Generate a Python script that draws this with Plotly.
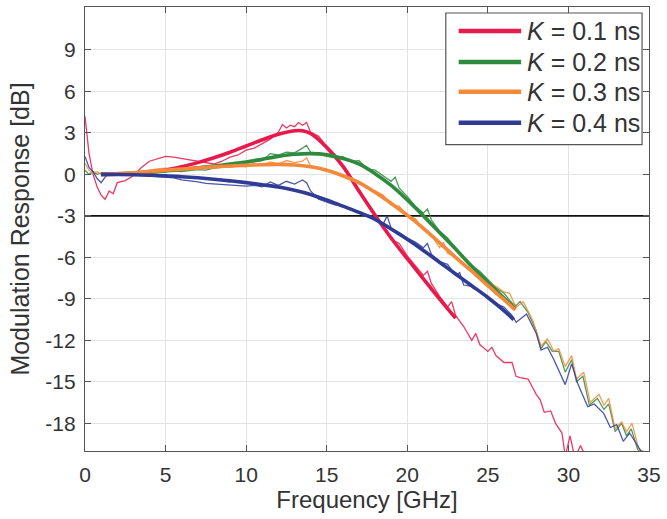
import plotly.graph_objects as go

# ---------------- data ----------------
labels = ["0.1", "0.2", "0.3", "0.4"]
colors = ["#E8194B", "#2E8B3E", "#F5893A", "#2F3C96"]

# measured responses (thin lines)
f_meas_k1 = [0, 0.25, 0.5, 0.75, 1.0, 1.25, 1.5, 1.75, 2.0, 2.5, 3.0, 3.5, 4.0, 4.5, 5.0, 5.5, 6.0, 6.5, 7.0, 7.5,
             8.0, 8.5, 9.0, 9.5, 10.0, 10.5, 11.0, 11.5, 12.0, 12.25, 12.5, 12.75, 13.0, 13.25, 13.5, 13.75, 14.0,
             14.5, 15.0, 15.5, 16.0, 16.5, 17.0, 17.5, 18.0, 18.5, 19.0, 19.5, 19.75, 20.0, 20.5, 21.0, 21.25,
             21.5, 22.0, 22.5, 22.75, 23.0, 23.5, 24.0, 24.25, 24.5, 25.0, 25.25, 25.5, 26.0, 26.5, 26.75, 27.0,
             27.5, 28.0, 28.25, 28.5, 28.9, 29.2, 29.6, 29.8, 30.1, 30.4, 30.75, 31.1]
m_k1 = [4.2, 1.5, 0.0, -0.9, -1.5, -1.8, -1.2, -1.4, -0.6, -0.45, -0.1, 0.5, 0.95, 1.15, 1.3, 1.25, 1.15, 1.05,
        0.9, 0.8, 0.75, 0.95, 1.25, 1.4, 1.75, 1.9, 2.25, 2.55, 3.05, 3.6, 3.35, 3.55, 3.45, 3.75, 3.55, 3.75,
        3.05, 2.75, 2.0, 1.3, 0.5, -0.3, -1.2, -2.0, -2.9, -3.8, -4.7, -5.0, -5.5, -5.9, -6.6, -7.3, -7.0, -7.9,
        -8.8, -9.6, -9.2, -10.2, -11.0, -12.0, -11.5, -12.3, -12.8, -12.5, -13.1, -13.6, -13.6, -14.6, -14.7,
        -14.8, -15.9, -16.3, -17.2, -17.1, -18.0, -18.7, -20.4, -18.9, -20.5, -19.6, -20.5]

f_meas_k2 = [0, 0.25, 0.5, 0.75, 1.0, 1.5, 2.0, 2.5, 3.0, 3.5, 4.0, 4.5, 5.0, 5.5, 6.0, 6.5, 7.0, 7.5, 8.0, 8.5,
             9.0, 9.5, 10.0, 10.5, 11.0, 11.5, 12.0, 12.5, 13.0, 13.5, 13.75, 14.0, 14.5, 15.0, 15.5, 16.0, 16.5,
             17.0, 17.5, 18.0, 18.5, 19.0, 19.25, 19.5, 20.0, 20.5, 21.0, 21.25, 21.5, 22.0, 22.5, 23.0, 23.5,
             24.0, 24.5, 25.0, 25.5, 26.0, 26.5, 26.75, 27.0, 27.5, 28.0, 28.3, 28.6, 29.0, 29.4, 29.8, 30.2, 30.5,
             30.9, 31.3, 31.8, 32.2, 32.5, 32.9, 33.3, 33.6, 33.9, 34.3, 34.7]
m_k2 = [0.3, 0.0, 0.2, 0.0, 0.1, 0.05, 0.0, 0.05, 0.05, 0.1, 0.1, 0.15, 0.2, 0.25, 0.2, 0.3, 0.35, 0.3, 0.45, 0.5,
        0.6, 0.6, 0.8, 0.9, 1.0, 1.5, 1.4, 1.6, 1.55, 1.9, 2.1, 1.6, 1.5, 1.3, 1.2, 1.3, 0.9, 1.0, 0.4, 0.3, -0.1,
        -0.5, -0.2, -1.0, -1.6, -2.3, -2.8, -2.5, -3.3, -4.1, -4.6, -5.3, -6.0, -6.6, -7.0, -7.6, -8.2, -8.6,
        -9.3, -9.5, -9.2, -10.0, -11.3, -12.6, -12.1, -12.8, -12.8, -14.3, -13.4, -15.0, -14.6, -16.7, -16.2,
        -17.0, -16.6, -18.6, -18.0, -18.9, -18.4, -19.9, -20.3]

f_meas_k3 = [0, 0.25, 0.5, 0.75, 1.0, 1.5, 2.0, 2.5, 3.0, 3.5, 4.0, 4.5, 5.0, 5.5, 6.0, 6.5, 7.0, 7.5, 8.0, 8.5,
             9.0, 9.5, 10.0, 10.5, 11.0, 11.5, 12.0, 12.5, 13.0, 13.5, 13.75, 14.0, 14.5, 15.0, 15.5, 16.0, 16.5,
             17.0, 17.5, 18.0, 18.5, 19.0, 19.5, 20.0, 20.5, 21.0, 21.5, 22.0, 22.25, 22.5, 23.0, 23.5, 24.0, 24.3,
             25.0, 25.5, 26.0, 26.35, 26.75, 27.2, 27.8, 28.3, 28.7, 29.1, 29.4, 29.8, 30.2, 30.5, 30.95, 31.35,
             31.9, 32.2, 32.5, 32.9, 33.3, 33.6, 33.95, 34.35, 34.75]
m_k3 = [0.8, 0.3, 0.1, 0.2, 0.0, 0.05, 0.1, 0.05, 0.15, 0.2, 0.3, 0.4, 0.45, 0.4, 0.35, 0.45, 0.4, 0.5, 0.45, 0.55,
        0.5, 0.6, 0.55, 0.7, 0.65, 0.9, 0.75, 1.0, 0.85, 0.95, 1.2, 0.6, 0.5, 0.35, 0.1, -0.1, -0.3, -0.5, -0.9,
        -1.2, -1.5, -2.2, -2.3, -3.0, -3.2, -4.0, -4.4, -5.3, -4.9, -5.7, -6.0, -6.5, -7.0, -7.2, -7.8, -8.1,
        -8.5, -8.6, -9.6, -9.2, -10.6, -12.4, -11.9, -12.8, -12.6, -13.9, -13.1, -14.8, -14.3, -16.5, -15.9,
        -16.7, -16.2, -18.4, -17.9, -18.6, -18.0, -19.8, -20.3]

f_meas_k4 = [0, 0.25, 0.5, 0.75, 1.0, 1.25, 1.5, 2.0, 2.5, 3.0, 3.5, 4.0, 4.5, 5.0, 5.5, 6.0, 6.5, 7.0, 7.5, 8.0,
             8.5, 9.0, 9.5, 10.0, 10.5, 11.0, 11.5, 12.0, 12.5, 13.0, 13.5, 13.75, 14.0, 14.5, 15.0, 15.5, 16.0,
             16.5, 17.0, 17.5, 18.0, 18.5, 18.75, 19.0, 19.5, 20.0, 20.5, 21.0, 21.25, 21.5, 22.0, 22.5, 23.0,
             23.25, 23.5, 24.0, 24.3, 25.0, 25.5, 26.0, 26.5, 26.76, 27.4, 28.0, 28.3, 28.7, 29.1, 29.8, 30.2, 30.6,
             31.2, 31.6, 32.2, 32.6, 33.0, 33.4, 33.8, 34.5, 35.0]
m_k4 = [1.3, 0.5, 0.2, -0.3, -0.6, -0.2, 0.1, 0.05, 0.0, -0.05, -0.1, -0.1, -0.15, -0.2, -0.25, -0.4, -0.45, -0.55,
        -0.65, -0.7, -0.75, -0.75, -0.8, -0.85, -0.8, -0.9, -0.55, -0.8, -0.5, -0.7, -0.4, -0.6, -1.2, -1.8, -2.0,
        -2.2, -2.3, -2.5, -2.7, -2.9, -3.1, -3.6, -3.0, -3.9, -4.2, -4.6, -4.9, -5.3, -5.0, -5.8, -6.3, -6.5,
        -7.3, -7.1, -8.0, -8.1, -8.3, -8.9, -9.35, -9.6, -10.2, -10.7, -10.1, -11.5, -12.7, -12.5, -13.4, -15.2,
        -13.7, -15.2, -16.8, -16.6, -17.3, -18.3, -18.1, -19.3, -18.7, -20.0, -20.1]

# fitted responses (thick lines)
f_fit_k1 = [1, 2, 3, 4, 5, 6, 7, 8, 9, 10, 11, 12, 13, 13.5, 14, 15, 16, 17, 18, 19, 20, 21, 22, 23]
fit_k1 = [0.0, 0.02, 0.06, 0.15, 0.3, 0.55, 0.85, 1.2, 1.6, 2.05, 2.5, 2.9, 3.15, 3.15, 2.95, 1.95, 0.6, -1.2,
          -2.95, -4.6, -6.1, -7.55, -9.0, -10.4]
f_fit_k2 = [1, 2, 3, 4, 5, 6, 7, 8, 9, 10, 11, 12, 13, 14, 15, 16, 17, 18, 19, 20, 21, 22, 23, 24, 25, 26, 26.7]
fit_k2 = [0.0, 0.03, 0.08, 0.15, 0.25, 0.35, 0.48, 0.6, 0.75, 0.9, 1.1, 1.3, 1.45, 1.5, 1.42, 1.15, 0.75, 0.05,
          -0.8, -1.85, -3.0, -4.2, -5.4, -6.65, -7.8, -8.95, -9.7]
f_fit_k3 = [1, 2, 3, 4, 5, 6, 7, 8, 9, 10, 11, 12, 13, 14, 15, 16, 17, 18, 19, 20, 21, 22, 23, 24, 25, 26, 26.7]
fit_k3 = [0.0, 0.05, 0.12, 0.2, 0.3, 0.38, 0.46, 0.54, 0.6, 0.66, 0.7, 0.72, 0.68, 0.55, 0.3, -0.1, -0.6, -1.3,
          -2.1, -2.95, -3.9, -4.95, -6.0, -7.0, -8.05, -9.05, -9.8]
f_fit_k4 = [1, 2, 3, 4, 5, 6, 7, 8, 9, 10, 11, 12, 13, 14, 15, 16, 17, 18, 19, 20, 21, 22, 23, 24, 25, 26, 26.6]
fit_k4 = [0.0, -0.01, -0.03, -0.06, -0.1, -0.17, -0.25, -0.35, -0.47, -0.6, -0.75, -0.92, -1.15, -1.45, -1.85,
          -2.3, -2.75, -3.25, -3.95, -4.7, -5.5, -6.35, -7.2, -8.05, -8.9, -9.85, -10.5]

x_ticks = [0, 5, 10, 15, 20, 25, 30, 35]
x_ticktext = ["0", "5", "10", "15", "20", "25", "30", "35"]
y_ticks = [9, 6, 3, 0, -3, -6, -9, -12, -15, -18]
y_ticktext = ["9", "6", "3", "0", "-3", "-6", "-9", "-12", "-15", "-18"]
x_limits = [0, 35]
ref_level = -3

meas_f = [f_meas_k1, f_meas_k2, f_meas_k3, f_meas_k4]
meas_v = [m_k1, m_k2, m_k3, m_k4]
fit_f = [f_fit_k1, f_fit_k2, f_fit_k3, f_fit_k4]
fit_v = [fit_k1, fit_k2, fit_k3, fit_k4]

FONT = "Arial, Liberation Sans, Helvetica, sans-serif"
TXT = "#333333"

fig = go.Figure()
# reference -3 dB line (under the curves, above the grid)
fig.add_trace(go.Scatter(x=x_limits, y=[ref_level, ref_level], mode="lines",
                         line=dict(color="#111111", width=1.6), showlegend=False, hoverinfo="skip"))
for i in range(4):
    fig.add_trace(go.Scatter(x=meas_f[i], y=meas_v[i], mode="lines",
                             line=dict(color=colors[i], width=1.3), opacity=0.85,
                             showlegend=False, hoverinfo="skip"))
for i in range(4):
    fig.add_trace(go.Scatter(x=fit_f[i], y=fit_v[i], mode="lines", line_shape="spline",
                             line=dict(color=colors[i], width=3.6),
                             showlegend=False))

# custom legend box
L, W, T, H = 85, 569, 6, 445
def px(x):
    return (x - L) / W
def py(y):
    return 1 - (y - T) / H

fig.add_shape(type="rect", xref="paper", yref="paper", x0=px(449), x1=px(647), y0=py(144), y1=py(12),
              line=dict(color="#555555", width=1.2), fillcolor="white", layer="above")
entry_y = [30, 61, 91, 122]
for i in range(4):
    fig.add_shape(type="line", xref="paper", yref="paper", x0=px(462), x1=px(525),
                  y0=py(entry_y[i]), y1=py(entry_y[i]),
                  line=dict(color=colors[i], width=4.5), layer="above")
    fig.add_annotation(xref="paper", yref="paper", x=px(529), y=py(entry_y[i]),
                       text="<i>K</i> = " + labels[i] + " ns", showarrow=False,
                       xanchor="left", yanchor="middle",
                       font=dict(family=FONT, size=25, color=TXT))

axis_common = dict(showgrid=True, gridcolor="#E3E3E3", gridwidth=1,
                   showline=True, linecolor="#555555", linewidth=1.3, mirror="ticks",
                   ticks="inside", ticklen=6, tickcolor="#555555", zeroline=False,
                   tickfont=dict(family=FONT, size=21, color=TXT))

fig.update_xaxes(range=x_limits, tickvals=x_ticks, ticktext=x_ticktext, ticklabelstandoff=5,
                 title=dict(text="Frequency [GHz]", font=dict(family=FONT, size=24, color=TXT),
                            standoff=4),
                 **axis_common)
fig.update_yaxes(range=[-20.0, 12.1], tickvals=y_ticks, ticktext=y_ticktext, ticklabelstandoff=4,
                 title=dict(text="Modulation Response [dB]", font=dict(family=FONT, size=25, color=TXT),
                            standoff=8),
                 **axis_common)

fig.update_layout(width=667, height=519, margin=dict(l=85, r=13, t=6, b=68),
                  plot_bgcolor="white", paper_bgcolor="white", showlegend=False)

fig.write_html("out.html")
